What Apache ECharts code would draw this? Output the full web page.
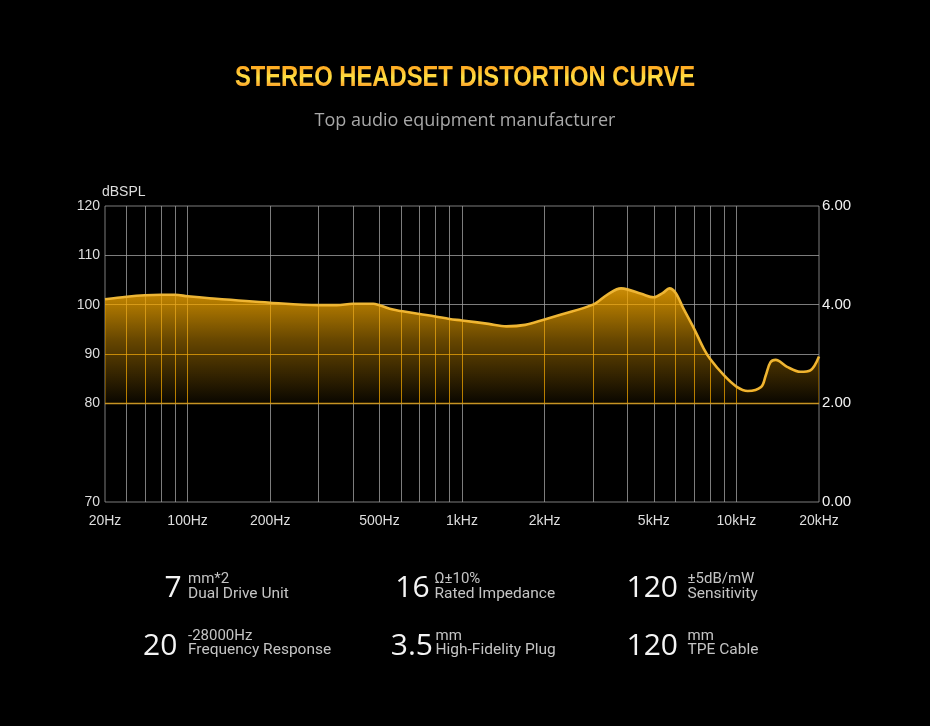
<!DOCTYPE html>
<html>
<head>
<meta charset="utf-8">
<script src="https://cdn.jsdelivr.net/npm/echarts@6/dist/echarts.min.js"></script>
<style>
html,body{margin:0;padding:0;background:#000;}
#c{width:930px;height:726px;}
</style>
</head>
<body>
<div id="c"></div>
<script>
// ---- data ----
const freqHz = [50,60,70,80,90,100,120,200,300,350,400,475,500,560,600,700,800,900,1000,1250,1450,1700,2000,2300,3000,3400,3800,4000,4500,5000,5400,5700,6000,6400,7000,7600,8000,9000,10000,11000,12300,12800,13300,13900,15300,17100,18600,20000];
const splDb  = [101.1,101.6,101.9,102.0,102.0,101.7,101.3,100.4,99.9,99.9,100.2,100.2,99.9,99.0,98.7,98.1,97.6,97.1,96.8,96.1,95.6,95.9,97.0,98.0,100.0,102.1,103.3,103.1,102.2,101.5,102.4,103.3,102.4,99.3,95.2,91.1,89.1,85.7,83.4,82.5,83.3,85.7,88.3,88.8,87.4,86.4,86.7,89.5];
const xTickValues = [50,100,200,500,1000,2000,5000,10000,20000];
const xTickLabels = ['20Hz','100Hz','200Hz','500Hz','1kHz','2kHz','5kHz','10kHz','20kHz'];
const gridFreqs = [60,70,80,90,100,200,300,400,500,600,700,800,900,1000,2000,3000,4000,5000,6000,7000,8000,9000,10000];
const gridDb = [80,90,100,110];
const yLeftTicks  = [60,70,80,90,100,110,120];
const yLeftLabels = ['70','','80','90','100','110','120'];
const specValues = ['7','16','120','20','3.5','120'];
const specUnits  = ['mm*2','Ω±10%','±5dB/mW','-28000Hz','mm','mm'];
const specNames  = ['Dual Drive Unit','Rated Impedance','Sensitivity','Frequency Response','High-Fidelity Plug','TPE Cable'];
const titleText = 'STEREO HEADSET DISTORTION CURVE';
const subtitleText = 'Top audio equipment manufacturer';

// ---- layout (positions only) ----
const numRight = [181.7, 429.6, 678, 177.3, 433, 678];
const textLeft = [188, 434.5, 687.5, 188, 435.5, 687.5];
const rowNumY  = [588.4, 646];
const rowUnitY = [579.6, 636.6];
const rowNameY = [594.5, 650.5];

const chart = echarts.init(document.getElementById('c'));
const curve = freqHz.map((f, i) => [f, splDb[i]]);
const GRID_LINE = 'rgba(160,160,160,0.78)';

const graphics = [
  {type:'text', name:'title', x:465, y:78.3, scaleX:0.82, silent:true,
   style:{text:titleText, fill:'#ffe446', fontFamily:'Liberation Sans', fontWeight:'bold', fontSize:29, align:'center', verticalAlign:'middle'}},
  {type:'rect', name:'titleTint', silent:true, shape:{x:220, y:64, width:490, height:28},
   style:{opacity:0.001, fill:new echarts.graphic.LinearGradient(0,0,0,1,[
     {offset:0,color:'rgb(255,178,100)'},{offset:0.2,color:'rgb(255,205,150)'},
     {offset:0.5,color:'rgb(255,255,255)'},{offset:0.9,color:'rgb(250,155,110)'}])}},
  {type:'text', name:'subtitle', x:465, y:121, silent:true,
   style:{text:subtitleText, fill:'#a8a8a8', fontFamily:'Open Sans', fontSize:18, align:'center', verticalAlign:'middle'}}
];
specValues.forEach((v, i) => {
  const row = i < 3 ? 0 : 1;
  graphics.push({type:'text', x:numRight[i], y:rowNumY[row], silent:true,
    style:{text:v, fill:'#f4f4f4', fontFamily:'Open Sans', fontSize:30, align:'right', verticalAlign:'middle'}});
  graphics.push({type:'text', x:textLeft[i], y:rowUnitY[row], silent:true,
    style:{text:specUnits[i], fill:'#c4c4c4', fontFamily:'Roboto', fontSize:15, align:'left', verticalAlign:'middle'}});
  graphics.push({type:'text', x:textLeft[i], y:rowNameY[row], silent:true,
    style:{text:specNames[i], fill:'#c4c4c4', fontFamily:'Roboto', fontSize:15.5, align:'left', verticalAlign:'middle'}});
});

const option = {
  backgroundColor:'#000',
  animation:false,
  grid:{left:105, right:111, top:206, bottom:224, show:true, borderColor:GRID_LINE, borderWidth:1, backgroundColor:'transparent'},
  xAxis:{
    type:'log', logBase:10, min:50, max:20000,
    axisLine:{show:false}, axisTick:{show:false}, splitLine:{show:false},
    axisLabel:{customValues:xTickValues, margin:12, color:'#dedede', fontFamily:'Liberation Sans', fontSize:14,
      formatter:(v)=>{const i = xTickValues.findIndex(t => Math.abs(t - v) / t < 1e-6); return i >= 0 ? xTickLabels[i] : '';}}
  },
  yAxis:[
    {type:'value', min:60, max:120, interval:10, position:'left',
     name:'dBSPL', nameLocation:'end', nameGap:5,
     nameTextStyle:{color:'#dedede', fontFamily:'Liberation Sans', fontSize:14, align:'left', verticalAlign:'bottom', padding:[0,0,0,-3]},
     axisLine:{show:false}, axisTick:{show:false}, splitLine:{show:false},
     axisLabel:{margin:5, color:'#dedede', fontFamily:'Liberation Sans', fontSize:14,
       formatter:(v)=>{const i = yLeftTicks.indexOf(Math.round(v)); return i >= 0 ? yLeftLabels[i] : '';}}},
    {type:'value', min:0, max:6, interval:2, position:'right',
     axisLine:{show:false}, axisTick:{show:false}, splitLine:{show:false},
     axisLabel:{margin:3, padding:[0,0,7,0], color:'#f2f2f2', fontFamily:'Liberation Sans', fontSize:15,
       formatter:(v)=>v.toFixed(2)}}
  ],
  graphic:{elements:graphics},
  series:[
    {type:'line', name:'grid', yAxisIndex:0, z:1, silent:true, data:curve, showSymbol:false, symbol:'none',
     lineStyle:{opacity:0}, emphasis:{disabled:true},
     markLine:{z:1, silent:true, symbol:'none', animation:false, label:{show:false}, emphasis:{disabled:true},
       lineStyle:{color:GRID_LINE, type:'solid', width:1},
       data:[].concat(
         gridFreqs.map(f => ({xAxis:f})),
         gridDb.map(d => d === 80 ? ({yAxis:d, lineStyle:{color:'rgba(205,155,45,0.95)', width:1.3, type:'solid'}}) : ({yAxis:d}))
       )}},
    {type:'line', name:'SPL', yAxisIndex:0, z:2, silent:true, data:curve, smooth:0.35, symbol:'none', showSymbol:false,
     emphasis:{disabled:true},
     lineStyle:{color:'#ebb637', width:2.6},
     areaStyle:{origin:80, opacity:1,
       color:new echarts.graphic.LinearGradient(0,0,0,1,[
         {offset:0,color:'rgba(228,168,42,0.84)'},
         {offset:0.45,color:'rgba(228,168,42,0.42)'},
         {offset:1,color:'rgba(228,168,42,0.04)'}])}},
    {type:'custom', name:'tint', coordinateSystem:'cartesian2d', yAxisIndex:0, z:3, silent:true,
     data:[[50,80]],
     renderItem:(params, api) => {
       const pts = curve.map(p => api.coord(p));
       pts.push(api.coord([20000, 80]));
       pts.push(api.coord([50, 80]));
       return {type:'polygon', silent:true, shape:{points:pts}, style:{fill:'#e6aa28', opacity:0.001}};
     }}
  ]
};
chart.setOption(option);

// Composite modes: 'color' tints the grid lines under the fill, 'multiply' shades the title.
(function applyBlends(){
  const zr = chart.getZr();
  let found = false;
  zr.storage.getDisplayList(true).forEach(el => {
    if (el.type === 'polygon' && el.style && el.style.fill === '#e6aa28') {
      el.style.blend = 'color'; el.style.opacity = 1; el.markRedraw(); found = true;
    }
    if (el.type === 'rect' && (el.name === 'titleTint' || (el.shape && el.shape.width === 490 && el.shape.height === 28))) {
      el.style.blend = 'multiply'; el.style.opacity = 1; el.markRedraw(); found = true;
    }
  });
  if (found) zr.refreshImmediately();
})();
</script>
</body>
</html>
